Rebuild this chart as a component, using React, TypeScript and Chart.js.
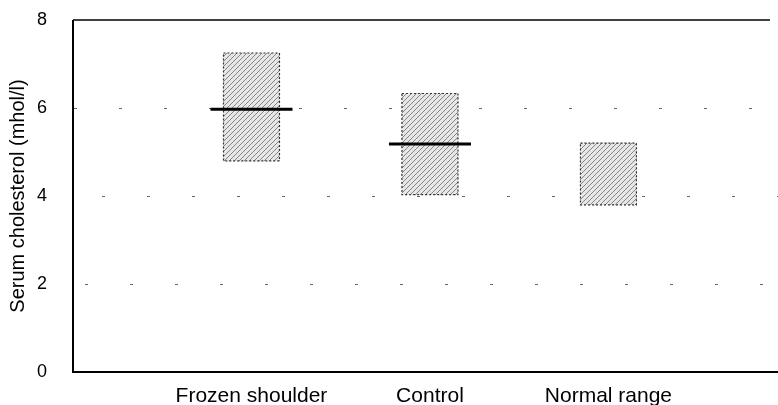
import React, { useEffect, useRef } from 'react';
import { Chart, registerables } from 'chart.js';

Chart.register(...registerables);

const categories = ['Frozen shoulder', 'Control', 'Normal range'];
const positions = [1, 2, 3];
const lows = [4.8, 4.03, 3.8];
const highs = [7.25, 6.33, 5.2];
const medians: (number | null)[] = [5.97, 5.18, null];
const yTicks = [0, 2, 4, 6, 8];
const gridValues = [2, 4, 6];

function makePattern(): CanvasPattern | string {
  const c = document.createElement('canvas');
  c.width = 5;
  c.height = 5;
  const g = c.getContext('2d');
  if (!g) return '#cccccc';
  g.fillStyle = '#e6e6e6';
  g.fillRect(0, 0, 5, 5);
  g.strokeStyle = '#7a7a7a';
  g.lineWidth = 0.9;
  g.beginPath();
  g.moveTo(0, 5);
  g.lineTo(5, 0);
  g.moveTo(-2.5, 2.5);
  g.lineTo(2.5, -2.5);
  g.moveTo(2.5, 7.5);
  g.lineTo(7.5, 2.5);
  g.stroke();
  const p = g.createPattern(c, 'repeat');
  return p || '#cccccc';
}

const framePlugin = {
  id: 'frame',
  beforeDatasetsDraw(chart: any) {
    const { ctx, chartArea, scales } = chart;
    const y = scales.y;
    ctx.save();
    ctx.strokeStyle = '#666';
    ctx.lineWidth = 1;
    ctx.setLineDash([3, 42]);
    gridValues.forEach((v, i) => {
      const py = Math.round(y.getPixelForValue(v)) + 0.5;
      ctx.lineDashOffset = -12 - i * 17;
      ctx.beginPath();
      ctx.moveTo(chartArea.left, py);
      ctx.lineTo(chartArea.right, py);
      ctx.stroke();
    });
    ctx.restore();
  },
  afterDatasetsDraw(chart: any) {
    const { ctx, chartArea, scales } = chart;
    const x = scales.x;
    const y = scales.y;
    const meta = chart.getDatasetMeta(0);
    ctx.save();
    ctx.strokeStyle = '#333';
    ctx.lineWidth = 1.2;
    ctx.setLineDash([2, 2]);
    meta.data.forEach((el: any) => {
      const props = el.getProps(['x', 'y', 'base', 'width'], true);
      const l = props.x - props.width / 2;
      const top = Math.min(props.y, props.base);
      const h = Math.abs(props.base - props.y);
      ctx.strokeRect(l, top, props.width, h);
    });
    ctx.setLineDash([]);
    ctx.strokeStyle = '#000';
    ctx.lineWidth = 3;
    medians.forEach((m, i) => {
      if (m === null) return;
      const cx = x.getPixelForValue(positions[i]);
      const py = y.getPixelForValue(m);
      ctx.beginPath();
      ctx.moveTo(cx - 41, py);
      ctx.lineTo(cx + 41, py);
      ctx.stroke();
    });
    ctx.strokeStyle = '#000';
    ctx.lineWidth = 2;
    ctx.beginPath();
    ctx.moveTo(chartArea.left, chartArea.top);
    ctx.lineTo(chartArea.left, chartArea.bottom);
    ctx.lineTo(chartArea.right, chartArea.bottom);
    ctx.stroke();
    ctx.lineWidth = 1.5;
    ctx.beginPath();
    ctx.moveTo(chartArea.left, chartArea.top);
    ctx.lineTo(chartArea.right - 8, chartArea.top);
    ctx.stroke();
    ctx.restore();
  },
};

export default function App() {
  const ref = useRef<HTMLCanvasElement | null>(null);
  useEffect(() => {
    if (!ref.current) return;
    const pattern = makePattern();
    const chart = new Chart(ref.current, {
      type: 'bar',
      data: {
        datasets: [
          {
            data: positions.map((p, i) => ({ x: p, y: [lows[i], highs[i]] })) as any,
            backgroundColor: pattern as any,
            borderWidth: 0,
            barThickness: 56,
          },
        ],
      },
      options: {
        animation: false,
        responsive: false,
        maintainAspectRatio: false,
        layout: { padding: { top: 20, right: 0, left: 0, bottom: 0 } },
        plugins: { legend: { display: false }, tooltip: { enabled: false } },
        scales: {
          x: {
            type: 'linear',
            min: 0,
            max: 3.95,
            offset: false,
            grid: { display: false },
            border: { display: false },
            afterBuildTicks: (s: any) => {
              s.ticks = positions.map((v) => ({ value: v }));
            },
            afterFit: (s: any) => {
              s.height = 33;
            },
            ticks: {
              color: '#000',
              padding: 4,
              font: { family: 'Liberation Sans, Arial, sans-serif', size: 21 },
              callback: (v: any) => {
                const idx = positions.indexOf(Number(v));
                return idx >= 0 ? categories[idx] : '';
              },
            },
          },
          y: {
            type: 'linear',
            min: 0,
            max: 8,
            grid: { display: false },
            border: { display: false },
            afterBuildTicks: (s: any) => {
              s.ticks = yTicks.map((v) => ({ value: v }));
            },
            afterFit: (s: any) => {
              s.width = 73;
              s.paddingTop = 0;
              s.paddingBottom = 0;
            },
            ticks: {
              color: '#000',
              padding: 18,
              font: { family: 'Liberation Sans, Arial, sans-serif', size: 18 },
            },
            title: {
              display: true,
              text: 'Serum cholesterol (mhol/l)',
              color: '#000',
              padding: { top: 6, bottom: 0 },
              font: { family: 'Liberation Sans, Arial, sans-serif', size: 20 },
            },
          },
        },
      },
      plugins: [framePlugin],
    });
    return () => chart.destroy();
  }, []);
  return (
    <div style={{ position: 'fixed', left: 0, top: 0, width: 778, height: 405, background: '#fff' }}>
      <canvas ref={ref} width={778} height={405} style={{ display: 'block' }} />
    </div>
  );
}
